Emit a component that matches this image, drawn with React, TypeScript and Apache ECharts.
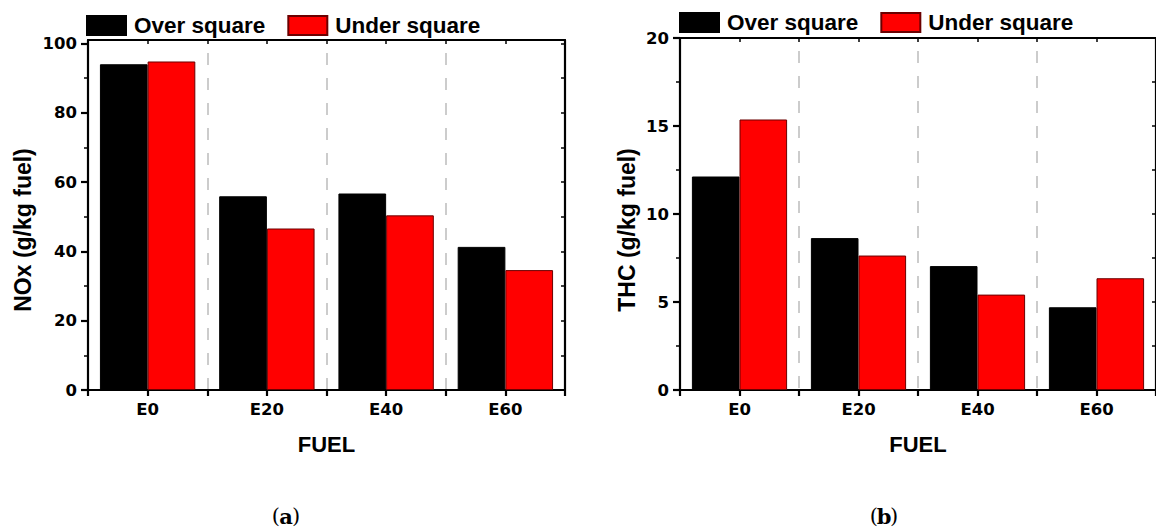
import React, { useEffect, useRef } from "react";
import * as echarts from "echarts";

const fuels = ["E0", "E20", "E40", "E60"];
const noxOver = [94.0, 55.9, 56.7, 41.3];
const noxUnder = [94.8, 46.6, 50.4, 34.6];
const thcOver = [12.13, 8.63, 7.04, 4.7];
const thcUnder = [15.37, 7.64, 5.42, 6.35];
const noxTicks = [0, 20, 40, 60, 80, 100];
const thcTicks = [0, 5, 10, 15, 20];
const seriesNames = ["Over square", "Under square"];

const SANS = "'Liberation Sans', Arial, Helvetica, sans-serif";
const TICKFONT = "'DejaVu Sans', 'Liberation Sans', sans-serif";
const SERIF = "'DejaVu Serif', 'Liberation Serif', serif";

const lineStyle = { color: "#000", width: 2.2 };

function xAxesFor(gridIndex: number) {
  return [
    {
      gridIndex,
      type: "category",
      data: fuels,
      position: "bottom",
      axisLine: { show: true, lineStyle },
      axisTick: { show: true, length: 6, lineStyle },
      axisLabel: { color: "#000", fontWeight: "bold", fontSize: 16.5, fontFamily: TICKFONT, margin: 11 },
      splitLine: {
        show: true,
        lineStyle: { color: "#cccccc", width: 2, type: [12, 13], dashOffset: 12 },
      },
      name: "FUEL",
      nameLocation: "middle",
      nameGap: 43,
      nameTextStyle: { color: "#000", fontWeight: "bold", fontSize: 22, fontFamily: SANS },
    },
    {
      gridIndex,
      type: "category",
      data: fuels,
      position: "bottom",
      axisLine: { show: false },
      axisTick: { show: true, alignWithLabel: true, length: 6, lineStyle },
      axisLabel: { show: false },
      splitLine: { show: false },
    },
    {
      gridIndex,
      type: "value",
      min: 0,
      max: 4,
      interval: 0.5,
      position: "top",
      axisLine: { show: true, lineStyle },
      axisTick: { show: true, inside: true, length: 4, lineStyle: { color: "#000", width: 1.5 } },
      axisLabel: { show: false },
      splitLine: { show: false },
    },
  ];
}

function yAxesFor(gridIndex: number, max: number, interval: number, ticks: number[]) {
  return [
    {
      gridIndex,
      type: "value",
      min: 0,
      max,
      interval,
      position: "left",
      axisLine: { show: true, lineStyle },
      axisTick: { show: true, length: 7, lineStyle, customValues: ticks },
      minorTick: { show: true, splitNumber: 2, length: 4, lineStyle: { color: "#000", width: 1.5 } },
      axisLabel: {
        color: "#000",
        fontWeight: "bold",
        fontSize: 16.5,
        fontFamily: TICKFONT,
        margin: 11,
        customValues: ticks,
        formatter: (v: number) => (ticks.indexOf(v) >= 0 ? String(v) : ""),
      },
      splitLine: { show: false },
    },
    {
      gridIndex,
      type: "value",
      min: 0,
      max,
      interval,
      position: "right",
      axisLine: { show: true, lineStyle },
      axisTick: { show: true, inside: true, length: 4, lineStyle: { color: "#000", width: 1.5 }, customValues: ticks },
      minorTick: { show: true, splitNumber: 2, length: 4, lineStyle: { color: "#000", width: 1.5 } },
      axisLabel: { show: false },
      splitLine: { show: false },
    },
  ];
}

function barSeries(name: string, data: number[], xAxisIndex: number, yAxisIndex: number, red: boolean) {
  return {
    type: "bar",
    name,
    data,
    xAxisIndex,
    yAxisIndex,
    barGap: "0%",
    barCategoryGap: "20%",
    itemStyle: red
      ? { color: "#ff0000", borderColor: "#6b0000", borderWidth: 1 }
      : { color: "#000000", borderColor: "#000000", borderWidth: 1 },
  };
}

function legendAt(left: number, top: number) {
  return {
    left,
    top,
    padding: 0,
    orient: "horizontal",
    itemWidth: 39,
    itemHeight: 19,
    itemGap: 22,
    icon: "rect",
    data: seriesNames,
    selectedMode: false,
    textStyle: {
      color: "#000",
      fontWeight: "bold",
      fontSize: 22.5,
      fontFamily: SANS,
      padding: [0, 0, 0, 3],
    },
  };
}

function caption(letter: string, x: number, y: number) {
  const mk = (text: string, dx: number, align: string, bold: boolean) => ({
    type: "text",
    x: x + dx,
    y,
    style: {
      text,
      font: (bold ? "bold " : "") + "21px " + SERIF,
      textAlign: align,
      textVerticalAlign: "middle",
      fill: "#000",
    },
  });
  return {
    type: "group",
    children: [mk("(", -6, "right", false), mk(letter, 0, "center", true), mk(")", 6, "left", false)],
  };
}

function yTitle(text: string, x: number, y: number) {
  return {
    type: "text",
    x,
    y,
    rotation: Math.PI / 2,
    style: {
      text,
      fill: "#000",
      font: "bold 23px " + SANS,
      textAlign: "center",
      textVerticalAlign: "middle",
    },
  };
}

export default function App() {
  const ref = useRef<HTMLDivElement>(null);
  useEffect(() => {
    document.body.style.margin = "0";
    if (!ref.current) return;
    const chart = echarts.init(ref.current, undefined, { renderer: "svg" });
    chart.setOption({
      animation: false,
      backgroundColor: "#ffffff",
      grid: [
        { left: 88, top: 40, width: 477, height: 350, containLabel: false },
        { left: 680, top: 38, width: 480, height: 352, containLabel: false },
      ],
      legend: [legendAt(86, 14), legendAt(679, 11)],
      xAxis: [...xAxesFor(0), ...xAxesFor(1)],
      yAxis: [...yAxesFor(0, 101, 20, noxTicks), ...yAxesFor(1, 20, 5, thcTicks)],
      series: [
        barSeries(seriesNames[0], noxOver, 0, 0, false),
        barSeries(seriesNames[1], noxUnder, 0, 0, true),
        barSeries(seriesNames[0], thcOver, 3, 2, false),
        barSeries(seriesNames[1], thcUnder, 3, 2, true),
      ],
      graphic: [
        yTitle("NOx (g/kg fuel)", 23, 230),
        yTitle("THC (g/kg fuel)", 627, 230),
        caption("a", 286, 516),
        caption("b", 884, 516),
      ],
    });
    return () => chart.dispose();
  }, []);
  return <div ref={ref} style={{ width: 1156, height: 527 }} />;
}
